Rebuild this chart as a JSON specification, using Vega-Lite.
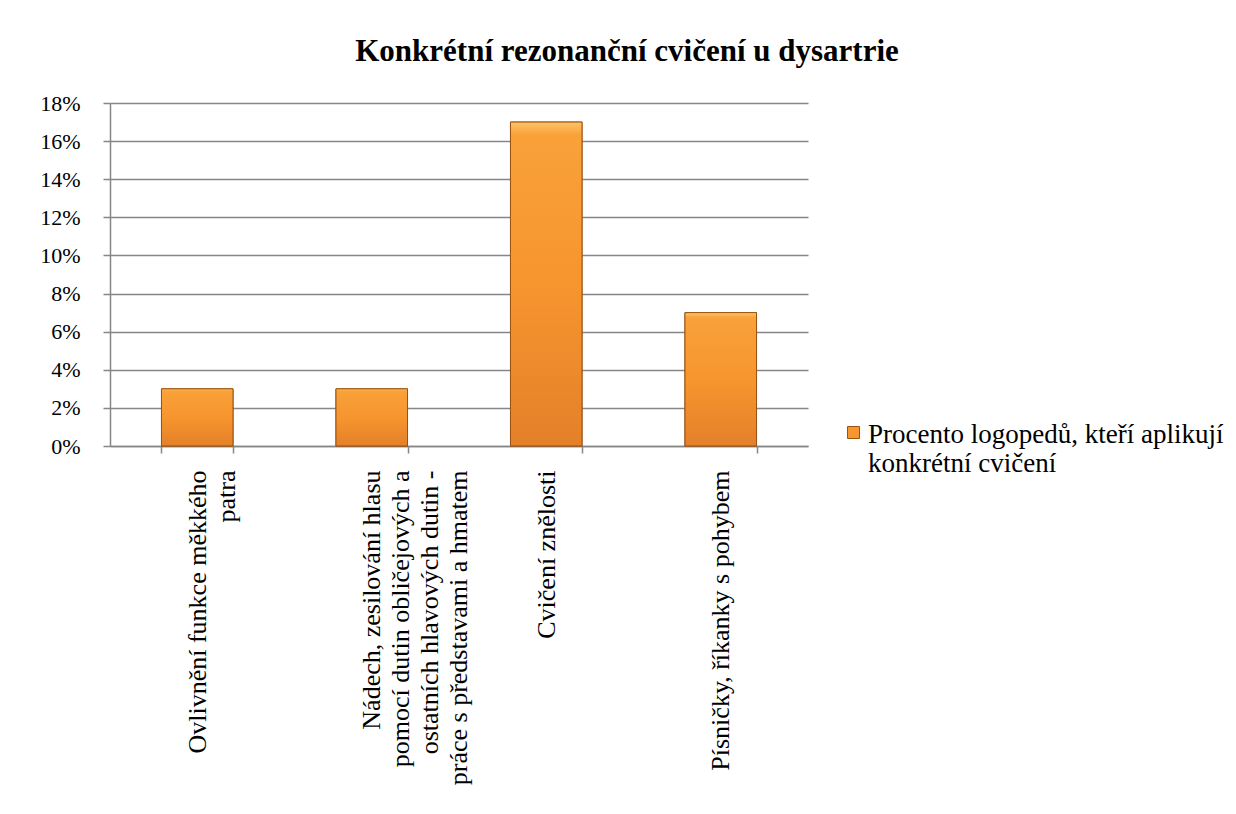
{
  "$schema": "https://vega.github.io/schema/vega-lite/v6.json",
  "autosize": {"type": "none"},
  "width": 698,
  "height": 343,
  "padding": {"left": 110, "top": 103, "right": 428, "bottom": 368},
  "background": "white",
  "title": {
    "text": "Konkrétní rezonanční cvičení u dysartrie",
    "font": "Liberation Serif",
    "fontSize": 31,
    "fontWeight": "bold",
    "color": "black",
    "anchor": "middle",
    "frame": "group",
    "dx": 168,
    "offset": 24
  },
  "data": {
    "values": [
      {"cvičení": "Ovlivnění funkce měkkého\npatra", "podíl": 0.03, "řada": "Procento logopedů, kteří aplikují\nkonkrétní cvičení"},
      {"cvičení": "Nádech, zesilování hlasu\npomocí dutin obličejových a\nostatních hlavových dutin -\npráce s představami a hmatem", "podíl": 0.03, "řada": "Procento logopedů, kteří aplikují\nkonkrétní cvičení"},
      {"cvičení": "Cvičení znělosti", "podíl": 0.17, "řada": "Procento logopedů, kteří aplikují\nkonkrétní cvičení"},
      {"cvičení": "Písničky, říkanky s pohybem", "podíl": 0.07, "řada": "Procento logopedů, kteří aplikují\nkonkrétní cvičení"}
    ]
  },
  "encoding": {
    "x": {
      "field": "cvičení",
      "type": "nominal",
      "sort": null,
      "scale": {"paddingInner": 0.59, "paddingOuter": 0.295},
      "axis": {
        "title": null,
        "labelAngle": -90,
        "labelAlign": "right",
        "labelBaseline": "middle",
        "labelExpr": "split(datum.label, '\\n')",
        "labelLineHeight": 29,
        "labelFont": "Liberation Serif",
        "labelFontSize": 26,
        "labelColor": "black",
        "labelLimit": 500,
        "labelPadding": 17,
        "tickBand": "extent",
        "tickSize": 7,
        "tickColor": "#868686",
        "tickWidth": 1.5,
        "domainColor": "#868686",
        "domainWidth": 1.5,
        "grid": false
      }
    },
    "y": {
      "field": "podíl",
      "type": "quantitative",
      "scale": {"domain": [0, 0.18], "nice": false},
      "axis": {
        "title": null,
        "values": [0, 0.02, 0.04, 0.06, 0.08, 0.1, 0.12, 0.14, 0.16, 0.18],
        "format": ".0%",
        "labelFont": "Liberation Serif",
        "labelFontSize": 22,
        "labelColor": "black",
        "labelPadding": 23,
        "tickSize": 7,
        "tickColor": "#868686",
        "tickWidth": 1.5,
        "domainColor": "#868686",
        "domainWidth": 1.5,
        "grid": true,
        "gridColor": "#868686",
        "gridWidth": 1.5,
        "gridOpacity": 1
      }
    }
  },
  "layer": [
    {
      "mark": {"type": "bar", "stroke": "#9a5213", "strokeWidth": 1},
      "encoding": {
        "color": {
          "field": "řada",
          "type": "nominal",
          "scale": {"range": ["#f7952e"]},
          "legend": {
            "title": null,
            "orient": "none",
            "legendX": 730,
            "legendY": 316,
            "padding": 0,
            "symbolType": "square",
            "symbolSize": 144,
            "symbolStrokeColor": "#9a5213",
            "symbolStrokeWidth": 1,
            "labelExpr": "split(datum.label, '\\n')",
            "labelFont": "Liberation Serif",
            "labelFontSize": 27,
            "labelColor": "black",
            "labelLimit": 500,
            "labelOffset": 1,
            "labelBaseline": "top",
            "labelLineHeight": 30,
            "encode": {
              "labels": {"update": {"dy": {"value": -11}}}
            }
          }
        }
      }
    },
    {
      "mark": {
        "type": "bar",
        "stroke": "#9a5213",
        "strokeWidth": 1,
        "fill": {"gradient": "linear", "x1": 0, "y1": 0, "x2": 0, "y2": 1, "stops": [{"offset": 0, "color": "#fcc564"}, {"offset": 0.04, "color": "#f9a13a"}, {"offset": 0.5, "color": "#f7952e"}, {"offset": 1, "color": "#e4802a"}]}
      },
      "encoding": {}
    }
  ],
  "config": {
    "view": {"stroke": null}
  }
}
